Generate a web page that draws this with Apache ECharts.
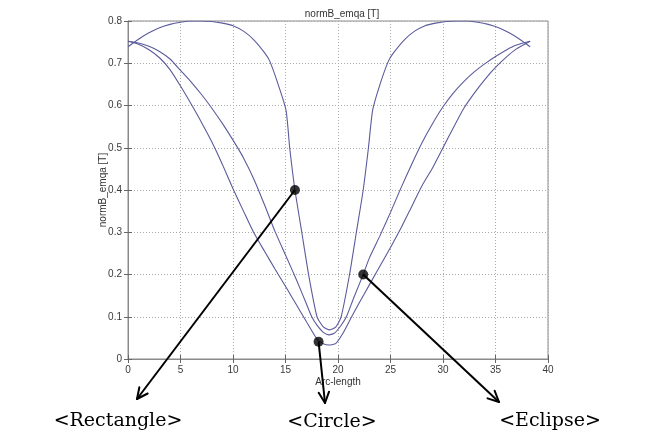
<!DOCTYPE html>
<html>
<head>
<meta charset="utf-8">
<script src="https://cdn.jsdelivr.net/npm/echarts@6/dist/echarts.min.js"></script>
<style>
html,body{margin:0;padding:0;background:#fff;}
#c{width:652px;height:442px;}
</style>
</head>
<body>
<div id="c"></div>
<script>
// ---- data ----
const chartTitle = 'normB_emqa [T]';
const xName = 'Arc-length';
const yName = 'normB_emqa [T]';

const rectX = [0,1,2,3,4,5,6,7,8,9,10,11,12,13,13.5,14.3,15.05,15.4,15.9,16.55,17.2,18.0,18.6,19.2,19.8,20.3,21.1,21.75,22.4,22.9,23.3,24.0,24.8,25.3,26.3,27.3,28.3,29.3,30.3,31.3,32.3,33.3,34.3,35.3,36.3,37.3,38.3];
const rectY = [0.739,0.757,0.772,0.784,0.792,0.797,0.800,0.800,0.799,0.795,0.789,0.776,0.755,0.725,0.705,0.650,0.589,0.500,0.400,0.300,0.200,0.100,0.076,0.069,0.076,0.100,0.200,0.300,0.400,0.500,0.589,0.650,0.705,0.725,0.755,0.776,0.789,0.795,0.799,0.800,0.800,0.797,0.792,0.784,0.772,0.757,0.739];

const circX = [0,1,2,3,4,5,6,7,8,9,10,11,12,13,14,15,16,17,18,18.6,19.15,19.8,20.5,21.3,22,23,24,25,26,27,28,29,30,31,32,33,34,35,36,37,38.3];
const circY = [0.752,0.745,0.732,0.713,0.685,0.646,0.604,0.560,0.513,0.460,0.403,0.350,0.298,0.255,0.213,0.172,0.130,0.088,0.047,0.036,0.033,0.037,0.062,0.100,0.132,0.176,0.220,0.264,0.310,0.360,0.410,0.452,0.500,0.548,0.594,0.630,0.662,0.690,0.714,0.734,0.752];

const ellX = [0,1,2,3,4,5,6,7,8,9,10,11,12,13,14,15,16,17,17.5,18,18.6,19.15,19.7,20.3,20.8,21.5,22.4,23,24,25,26,27,28,29,30,31,32,33,34,35,36,37,38.3];
const ellY = [0.752,0.748,0.740,0.728,0.710,0.683,0.656,0.626,0.593,0.557,0.518,0.476,0.425,0.365,0.302,0.246,0.190,0.130,0.100,0.080,0.063,0.057,0.062,0.080,0.100,0.145,0.200,0.240,0.292,0.347,0.405,0.460,0.512,0.557,0.597,0.630,0.657,0.680,0.699,0.716,0.731,0.743,0.752];

// annotation dots (data coords) and labels
const annoNames = ['<Rectangle>', '<Circle>', '<Eclipse>'];
const annoDotX = [15.9, 18.15, 22.4];
const annoDotY = [0.400, 0.041, 0.200];
const annoTipPx = [[137, 399], [325, 403], [499, 402]];
const annoLabelPx = [[118, 421], [332, 422], [550, 421]];

const pairs = (xs, ys) => xs.map((x, i) => [x, ys[i]]);
const lineColor = '#5b5b9c';
const tickFont = {fontFamily: 'Liberation Sans, Arial, sans-serif', fontSize: 10, color: '#3a3a3a'};

const chart = echarts.init(document.getElementById('c'), null, {renderer: 'canvas'});
const lineSeries = (data) => ({
  type: 'line', data: data, showSymbol: false, smooth: 0.2,
  lineStyle: {color: lineColor, width: 1.1}, silent: true, z: 3
});

chart.setOption({
  animation: false,
  backgroundColor: '#fff',
  title: {
    text: chartTitle, left: 337, top: 4, textAlign: 'center',
    textStyle: {fontFamily: 'Liberation Sans, Arial, sans-serif', fontSize: 10, fontWeight: 'normal', color: '#333'}
  },
  grid: {left: 128, right: 104, top: 21, bottom: 83, show: true, borderColor: '#8a8a8a', borderWidth: 1},
  xAxis: [{
    type: 'value', min: 0, max: 40, interval: 5,
    name: xName, nameLocation: 'middle', nameGap: 18, nameMoveOverlap: false,
    nameTextStyle: {fontFamily: 'Liberation Sans, Arial, sans-serif', fontSize: 10, color: '#333'},
    axisLine: {show: true, lineStyle: {color: '#8a8a8a'}},
    axisTick: {show: true, inside: true, length: 4, lineStyle: {color: '#666'}},
    axisLabel: Object.assign({margin: 6}, tickFont),
    splitLine: {show: true, lineStyle: {color: '#aaaaaa', type: [1, 2], width: 1}}
  }, {
    type: 'value', min: 0, max: 40, interval: 5, position: 'top',
    axisLine: {show: false}, axisLabel: {show: false},
    axisTick: {show: true, inside: true, length: 4, lineStyle: {color: '#666'}},
    splitLine: {show: false}
  }],
  yAxis: [{
    type: 'value', min: 0, max: 0.8, interval: 0.1,
    name: yName, nameLocation: 'middle', nameGap: 20, nameRotate: 90, nameMoveOverlap: false,
    nameTextStyle: {fontFamily: 'Liberation Sans, Arial, sans-serif', fontSize: 10, color: '#333'},
    axisLine: {show: true, lineStyle: {color: '#8a8a8a'}},
    axisTick: {show: true, inside: true, length: 4, lineStyle: {color: '#666'}},
    axisLabel: Object.assign({margin: 6, formatter: v => String(Math.round(v * 10) / 10)}, tickFont),
    splitLine: {show: true, lineStyle: {color: '#aaaaaa', type: [1, 2], width: 1}}
  }, {
    type: 'value', min: 0, max: 0.8, interval: 0.1, position: 'right',
    axisLine: {show: false}, axisLabel: {show: false},
    axisTick: {show: true, inside: true, length: 4, lineStyle: {color: '#666'}},
    splitLine: {show: false}
  }],
  series: [
    lineSeries(pairs(rectX, rectY)),
    lineSeries(pairs(circX, circY)),
    lineSeries(pairs(ellX, ellY)),
    {
      type: 'scatter', data: pairs(annoDotX, annoDotY), symbolSize: 10,
      itemStyle: {color: '#000'}, z: 10, silent: true
    }
  ]
});

// arrows from the dots to the labels
const graphics = [];
annoNames.forEach((name, i) => {
  const p = chart.convertToPixel({xAxisIndex: 0, yAxisIndex: 0}, [annoDotX[i], annoDotY[i]]);
  const t = annoTipPx[i];
  graphics.push({type: 'line', shape: {x1: p[0], y1: p[1], x2: t[0], y2: t[1]},
    style: {stroke: '#000', lineWidth: 2}, z: 20});
  const ang = Math.atan2(t[1] - p[1], t[0] - p[0]);
  const L = 12, spread = Math.PI / 7;
  [ang + Math.PI - spread, ang + Math.PI + spread].forEach(a => {
    graphics.push({type: 'line', shape: {x1: t[0], y1: t[1], x2: t[0] + L * Math.cos(a), y2: t[1] + L * Math.sin(a)},
      style: {stroke: '#000', lineWidth: 2, lineCap: 'round'}, z: 20});
  });
  graphics.push({type: 'text', x: annoLabelPx[i][0], y: annoLabelPx[i][1],
    style: {text: name, fill: '#000', font: '19px "DejaVu Serif", serif', textAlign: 'center', textVerticalAlign: 'middle'}, z: 20});
});
chart.setOption({graphic: graphics});
</script>
</body>
</html>
